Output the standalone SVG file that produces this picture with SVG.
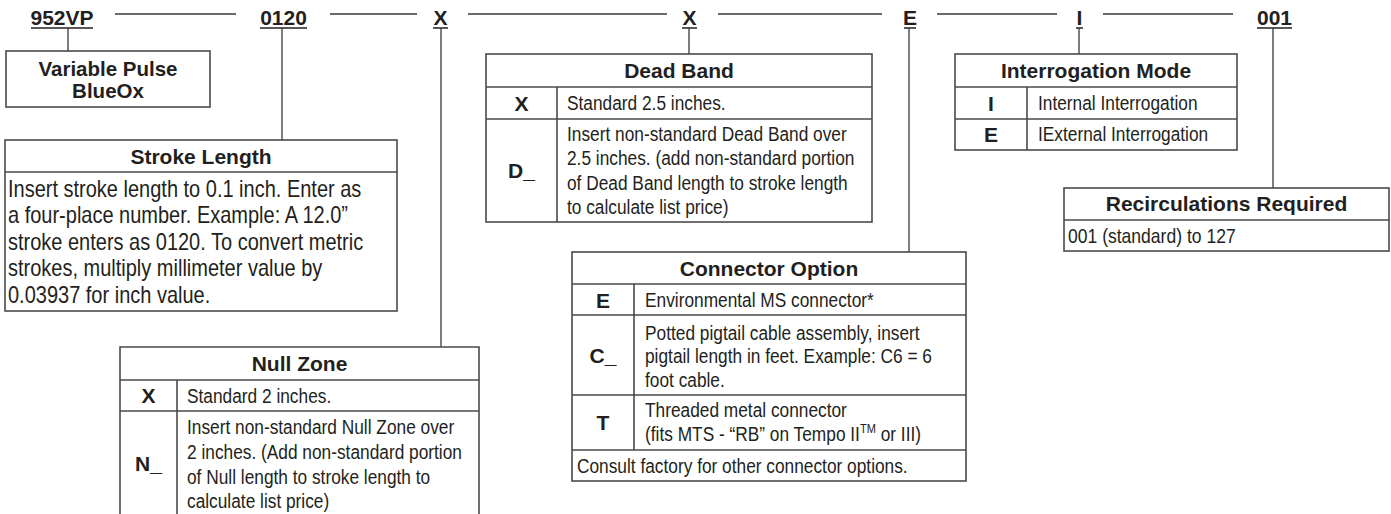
<svg xmlns="http://www.w3.org/2000/svg" width="1391" height="514" viewBox="0 0 1391 514">
<style>
  text { font-family: "Liberation Sans", Arial, sans-serif; fill: #231f20; }
  .hd { font-size: 21px; font-weight: bold; text-anchor: middle; }
  .ti { font-size: 21px; font-weight: bold; text-anchor: middle; }
  .lb { font-size: 21px; font-weight: bold; text-anchor: middle; }
  .bd { font-size: 20.4px; }
  .bs { font-size: 23.4px; }
  .box { fill: #ffffff; stroke: #4a4a4a; stroke-width: 1.6; }
  .rl { stroke: #4a4a4a; stroke-width: 1.6; fill: none; }
  .cn { stroke: #3a3a3a; stroke-width: 1.3; fill: none; }
  .ul { stroke: #231f20; stroke-width: 1.5; fill: none; }
</style>
<rect x="0" y="0" width="1391" height="514" fill="#ffffff"/>

<g id="header">
  <text class="hd" x="62" y="25">952VP</text>
  <line class="ul" x1="31" y1="28" x2="93" y2="28"/>
  <text class="hd" x="283.5" y="25">0120</text>
  <line class="ul" x1="260" y1="28" x2="307" y2="28"/>
  <text class="hd" x="440.5" y="25">X</text>
  <line class="ul" x1="433" y1="28" x2="448" y2="28"/>
  <text class="hd" x="689.5" y="25">X</text>
  <line class="ul" x1="682" y1="28" x2="697" y2="28"/>
  <text class="hd" x="910" y="25">E</text>
  <line class="ul" x1="904" y1="28" x2="916" y2="28"/>
  <text class="hd" x="1079.5" y="25">I</text>
  <line class="ul" x1="1076" y1="28" x2="1083" y2="28"/>
  <text class="hd" x="1274.5" y="25">001</text>
  <line class="ul" x1="1257" y1="28" x2="1292" y2="28"/>
  <line class="cn" x1="115" y1="14" x2="236" y2="14"/>
  <line class="cn" x1="330" y1="14" x2="417" y2="14"/>
  <line class="cn" x1="468" y1="14" x2="667" y2="14"/>
  <line class="cn" x1="718" y1="14" x2="882" y2="14"/>
  <line class="cn" x1="937" y1="14" x2="1057" y2="14"/>
  <line class="cn" x1="1103" y1="14" x2="1233" y2="14"/>
</g>

<g id="connectors">
  <line class="cn" x1="68" y1="28" x2="68" y2="51"/>
  <line class="cn" x1="282" y1="28" x2="282" y2="140"/>
  <line class="cn" x1="441" y1="28" x2="441" y2="347"/>
  <line class="cn" x1="689" y1="28" x2="689" y2="54"/>
  <line class="cn" x1="909" y1="28" x2="909" y2="252"/>
  <line class="cn" x1="1079" y1="28" x2="1079" y2="54"/>
  <line class="cn" x1="1273" y1="28" x2="1273" y2="188"/>
</g>

<g id="node-variable-pulse">
  <rect class="box" x="6" y="51" width="204" height="56"/>
  <text class="ti" x="108" y="76" style="font-size:20.5px">Variable Pulse</text>
  <text class="ti" x="108" y="98" style="font-size:20.5px">BlueOx</text>
</g>

<g id="node-stroke-length">
  <rect class="box" x="5" y="140" width="392" height="171"/>
  <line class="rl" x1="5" y1="172" x2="397" y2="172"/>
  <text class="ti" x="201" y="164">Stroke Length</text>
  <text class="bs" transform="matrix(0.855,0,0,1,8,0)" y="197">Insert stroke length to 0.1 inch. Enter as</text>
  <text class="bs" transform="matrix(0.855,0,0,1,8,0)" y="223.5">a four-place number. Example: A 12.0”</text>
  <text class="bs" transform="matrix(0.855,0,0,1,8,0)" y="250">stroke enters as 0120. To convert metric</text>
  <text class="bs" transform="matrix(0.855,0,0,1,8,0)" y="276.5">strokes, multiply millimeter value by</text>
  <text class="bs" transform="matrix(0.855,0,0,1,8,0)" y="303">0.03937 for inch value.</text>
</g>

<g id="node-null-zone">
  <path class="rl" d="M120 514 V347 H479 V514"/>
  <line class="rl" x1="120" y1="380" x2="479" y2="380"/>
  <line class="rl" x1="120" y1="411" x2="479" y2="411"/>
  <line class="rl" x1="177" y1="380" x2="177" y2="514"/>
  <text class="ti" x="299.5" y="371">Null Zone</text>
  <text class="lb" x="148.5" y="403">X</text>
  <text class="bd" transform="matrix(0.848,0,0,1,187,0)" y="403">Standard 2 inches.</text>
  <text class="lb" x="148.5" y="471">N_</text>
  <text class="bd" transform="matrix(0.848,0,0,1,187,0)" y="434">Insert non-standard Null Zone over</text>
  <text class="bd" transform="matrix(0.848,0,0,1,187,0)" y="459">2 inches. (Add non-standard portion</text>
  <text class="bd" transform="matrix(0.848,0,0,1,187,0)" y="484">of Null length to stroke length to</text>
  <text class="bd" transform="matrix(0.848,0,0,1,187,0)" y="508">calculate list price)</text>
</g>

<g id="node-dead-band">
  <rect class="box" x="486" y="54" width="386" height="168"/>
  <line class="rl" x1="486" y1="87" x2="872" y2="87"/>
  <line class="rl" x1="486" y1="119" x2="872" y2="119"/>
  <line class="rl" x1="557" y1="87" x2="557" y2="222"/>
  <text class="ti" x="679" y="78">Dead Band</text>
  <text class="lb" x="521.5" y="110.5">X</text>
  <text class="bd" transform="matrix(0.848,0,0,1,567,0)" y="110">Standard 2.5 inches.</text>
  <text class="lb" x="521.5" y="178">D_</text>
  <text class="bd" transform="matrix(0.848,0,0,1,567,0)" y="141">Insert non-standard Dead Band over</text>
  <text class="bd" transform="matrix(0.848,0,0,1,567,0)" y="165.5">2.5 inches. (add non-standard portion</text>
  <text class="bd" transform="matrix(0.848,0,0,1,567,0)" y="190">of Dead Band length to stroke length</text>
  <text class="bd" transform="matrix(0.848,0,0,1,567,0)" y="214.5">to calculate list price)</text>
</g>

<g id="node-connector-option">
  <rect class="box" x="572" y="252" width="394" height="229"/>
  <line class="rl" x1="572" y1="284" x2="966" y2="284"/>
  <line class="rl" x1="572" y1="315" x2="966" y2="315"/>
  <line class="rl" x1="572" y1="395" x2="966" y2="395"/>
  <line class="rl" x1="572" y1="450" x2="966" y2="450"/>
  <line class="rl" x1="634" y1="284" x2="634" y2="450"/>
  <text class="ti" x="769" y="276">Connector Option</text>
  <text class="lb" x="603" y="307.5">E</text>
  <text class="bd" transform="matrix(0.848,0,0,1,645,0)" y="307">Environmental MS connector*</text>
  <text class="lb" x="603" y="363">C_</text>
  <text class="bd" transform="matrix(0.848,0,0,1,645,0)" y="340">Potted pigtail cable assembly, insert</text>
  <text class="bd" transform="matrix(0.848,0,0,1,645,0)" y="363.5">pigtail length in feet. Example: C6 = 6</text>
  <text class="bd" transform="matrix(0.848,0,0,1,645,0)" y="387">foot cable.</text>
  <text class="lb" x="603" y="430">T</text>
  <text class="bd" transform="matrix(0.848,0,0,1,645,0)" y="417">Threaded metal connector</text>
  <text class="bd" transform="matrix(0.848,0,0,1,645,0)" y="441">(fits MTS - “RB” on Tempo II<tspan font-size="13" dy="-8">TM</tspan><tspan dy="8"> or III)</tspan></text>
  <text class="bd" transform="matrix(0.848,0,0,1,577,0)" y="473">Consult factory for other connector options.</text>
</g>

<g id="node-interrogation-mode">
  <rect class="box" x="955" y="54" width="282" height="96"/>
  <line class="rl" x1="955" y1="87" x2="1237" y2="87"/>
  <line class="rl" x1="955" y1="119" x2="1237" y2="119"/>
  <line class="rl" x1="1027" y1="87" x2="1027" y2="150"/>
  <text class="ti" x="1096" y="78">Interrogation Mode</text>
  <text class="lb" x="991" y="110.5">I</text>
  <text class="bd" transform="matrix(0.848,0,0,1,1038,0)" y="110">Internal Interrogation</text>
  <text class="lb" x="991" y="141.5">E</text>
  <text class="bd" transform="matrix(0.848,0,0,1,1038,0)" y="141">IExternal Interrogation</text>
</g>

<g id="node-recirculations">
  <rect class="box" x="1064" y="188" width="325" height="63"/>
  <line class="rl" x1="1064" y1="220" x2="1389" y2="220"/>
  <text class="ti" x="1226.5" y="211">Recirculations Required</text>
  <text class="bd" transform="matrix(0.86,0,0,1,1068,0)" y="243">001 (standard) to 127</text>
</g>
</svg>
